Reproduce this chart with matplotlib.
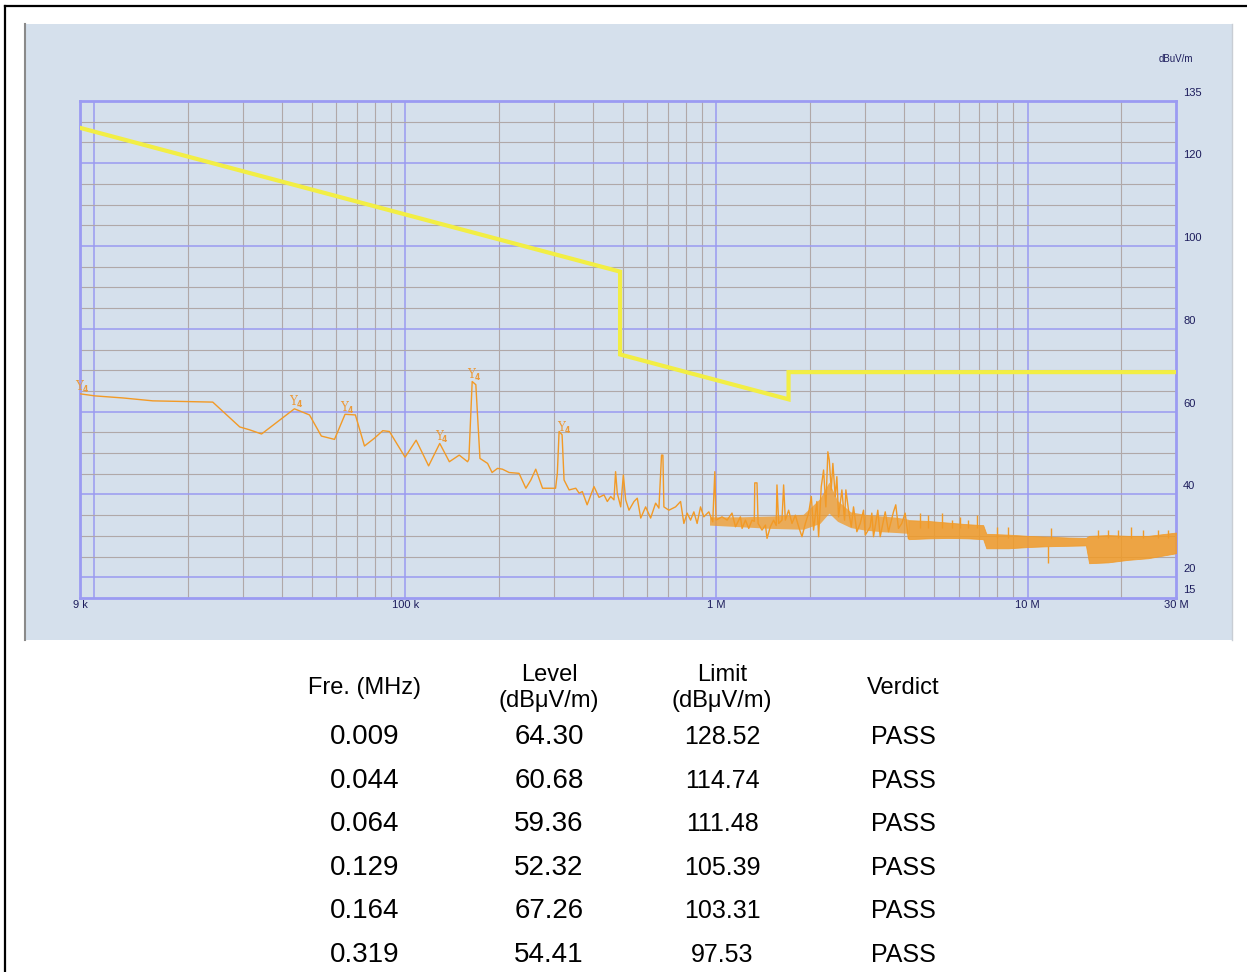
import matplotlib
matplotlib.use('Agg')
import matplotlib.pyplot as plt
from matplotlib.patches import Rectangle
from matplotlib.lines import Line2D

W, H = 1247, 972

# ---------------- data ----------------
trace_freq = [0.009, 0.01005, 0.01237, 0.01544, 0.02404, 0.02936, 0.0316, 0.0345,
              0.044, 0.0492, 0.0537, 0.0592, 0.064, 0.0691, 0.0739, 0.0796, 0.0846,
              0.0889, 0.0998, 0.1083, 0.1188, 0.129, 0.1385, 0.149, 0.1585, 0.1600,
              0.164, 0.1685, 0.1737, 0.1838, 0.190, 0.1978, 0.2052, 0.2156, 0.232,
              0.244, 0.2532, 0.2625, 0.276, 0.304, 0.308, 0.312, 0.319, 0.3237,
              0.336, 0.353, 0.362, 0.3706, 0.384, 0.404, 0.4193, 0.435, 0.4459,
              0.4571, 0.4684, 0.474, 0.480, 0.4923, 0.502, 0.5108, 0.5234, 0.5432,
              0.5565, 0.571, 0.592, 0.6143, 0.6375, 0.6532, 0.666, 0.6728, 0.6777,
              0.7032, 0.7389, 0.7668, 0.7857, 0.805, 0.8256, 0.846, 0.8667, 0.8888,
              0.9108, 0.945, 0.973, 0.988, 0.997, 1.042, 1.082, 1.122, 1.151, 1.194,
              1.209, 1.239, 1.270, 1.301, 1.323, 1.328, 1.350, 1.361, 1.401, 1.437,
              1.454, 1.490, 1.527, 1.556, 1.565, 1.585, 1.624, 1.644, 1.665, 1.706,
              1.749, 1.793, 1.838, 1.883, 1.931, 1.978, 2.018, 2.052, 2.103, 2.130,
              2.172, 2.210, 2.247, 2.281, 2.305, 2.339, 2.367, 2.409, 2.438, 2.469,
              2.530, 2.581, 2.606, 2.658, 2.712, 2.758, 2.827, 2.898, 2.970, 3.008,
              3.120, 3.158, 3.198, 3.301, 3.360, 3.487, 3.573, 3.707, 3.770, 3.846,
              3.941, 4.041, 4.141]
trace_level = [64.3, 63.8, 63.3, 62.6, 62.3, 56.3, 55.6, 54.6,
               60.68, 59.2, 54.1, 53.3, 59.36, 59.2, 51.7, 53.6, 55.4,
               55.2, 49.0, 53.1, 46.9, 52.32, 47.9, 49.5, 47.9, 48.5,
               67.26, 66.5, 48.7, 47.5, 45.3, 46.3, 46.1, 45.3, 45.1,
               41.5, 43.5, 46.1, 41.5, 41.5, 45.1, 55.2, 54.41, 43.5,
               41.1, 41.5, 40.3, 40.7, 37.5, 41.9, 39.3, 39.9, 38.3,
               39.5, 38.7, 45.5, 40.3, 37.0, 44.7, 38.7, 36.2, 38.3,
               39.1, 34.3, 37.0, 34.3, 37.9, 36.7, 49.5, 49.5, 37.0,
               36.2, 37.0, 38.3, 33.0, 35.5, 33.8, 35.8, 33.0, 37.0,
               34.6, 35.8, 33.4, 45.5, 33.8, 34.6, 33.8, 35.5, 32.2, 34.6,
               31.8, 33.8, 31.8, 33.8, 33.5, 42.8, 42.8, 33.0, 31.4, 32.6,
               29.4, 32.2, 33.8, 32.5, 42.3, 33.0, 33.8, 42.3, 33.8, 36.2,
               33.0, 35.0, 32.2, 29.8, 33.0, 35.5, 39.5, 31.4, 38.3, 29.8,
               41.9, 45.9, 37.0, 50.3, 48.3, 41.1, 47.5, 39.5, 44.3, 34.6,
               41.1, 33.8, 41.1, 36.2, 32.2, 37.0, 31.0, 33.0, 36.2, 30.2,
               32.2, 35.5, 29.8, 36.2, 29.8, 35.8, 31.0, 35.8, 37.5, 31.8,
               33.0, 35.5, 29.4]

# dense part of the trace (thousands of sweep points) drawn as an envelope
dense_freq = [0.95, 1.2, 1.5, 1.9, 2.15, 2.3, 2.45, 2.7, 3.0, 3.4, 3.8, 4.14]
dense_low = [32.6, 32.2, 31.8, 31.6, 33.0, 35.5, 33.5, 32.0, 31.4, 31.0, 30.8, 30.6]
dense_high = [34.6, 34.6, 34.8, 35.2, 39.0, 43.0, 38.5, 35.8, 35.2, 34.8, 34.5, 34.0]

band_freq = [4.14, 4.80, 5.56, 6.45, 7.20, 7.37, 8.67, 10.04, 11.65, 13.5, 15.4,
             15.77, 18.15, 21.0, 24.4, 30.0]
band_low = [29.2, 29.4, 29.5, 29.4, 29.2, 27.0, 27.0, 27.3, 27.5, 27.6, 27.7,
            23.4, 23.6, 24.2, 24.6, 25.8]
band_high = [33.8, 33.6, 33.2, 32.8, 32.6, 30.5, 30.3, 30.0, 29.8, 29.6, 29.5,
             30.0, 30.2, 30.0, 30.0, 30.8]

spike_freq = [4.51, 4.80, 5.30, 5.70, 6.07, 6.45, 6.86, 7.95, 8.67, 11.65, 11.93,
              16.85, 18.15, 19.53, 21.5, 23.5, 26.25, 28.27]
spike_base = [32.0, 32.0, 32.0, 32.0, 32.0, 32.0, 32.0, 29.5, 29.5, 27.5, 29.5,
              29.5, 29.5, 29.5, 29.5, 29.5, 29.5, 29.5]
spike_top = [35.5, 35.0, 35.5, 33.8, 34.6, 33.8, 35.0, 32.2, 32.2, 23.4, 31.9,
             31.4, 31.4, 31.4, 32.2, 31.4, 31.4, 31.4]

limit_freq = [0.009, 0.49, 0.49, 1.705, 1.705, 30.0]
limit_level = [128.52, 93.80, 73.80, 62.97, 69.54, 69.54]

peak_freq = [0.009, 0.044, 0.064, 0.129, 0.164, 0.319]
peak_level = [64.30, 60.68, 59.36, 52.32, 67.26, 54.41]
peak_limit = [128.52, 114.74, 111.48, 105.39, 103.31, 97.53]
peak_verdict = ['PASS', 'PASS', 'PASS', 'PASS', 'PASS', 'PASS']

x_tick_freq = [0.009, 0.1, 1.0, 10.0, 30.0]
x_tick_labels = ['9 k', '100 k', '1 M', '10 M', '30 M']
y_tick_values = [135, 120, 100, 80, 60, 40, 20, 15]
y_unit = 'dBuV/m'
table_headers = ['Fre. (MHz)', 'Level\n(dB\u03bcV/m)', 'Limit\n(dB\u03bcV/m)', 'Verdict']

# ---------------- styling ----------------
PANEL = '#d5e0ec'
GRID_GRAY = '#b0a8a8'
GRID_BLUE = '#9a9af0'
BORDER_BLUE = '#9b9bf2'
ORANGE = '#f29a26'
YELLOW = '#f2ee44'
NAVY = '#1c1c5c'
TFONT = ['Liberation Sans', 'DejaVu Sans']


def fx(x):
    return x / W


def fy(y):
    return 1 - y / H


fig = plt.figure(figsize=(W / 100, H / 100), dpi=100)
fig.patch.set_facecolor('white')

# outer black frame (top and left visible)
fig.add_artist(Line2D([fx(5), 1.0], [fy(6), fy(6)], color='black', lw=1.6,
                      transform=fig.transFigure))
fig.add_artist(Line2D([fx(5), fx(5)], [fy(6), 0.0], color='black', lw=1.6,
                      transform=fig.transFigure))

# chart panel
fig.add_artist(Rectangle((fx(25), fy(640)), (1232 - 25) / W, (640 - 24) / H,
                         facecolor=PANEL, edgecolor='none',
                         transform=fig.transFigure, zorder=0))
fig.add_artist(Line2D([fx(25), fx(25)], [fy(24), fy(640)], color='#8a8a8a', lw=1.5,
                      transform=fig.transFigure))
fig.add_artist(Line2D([fx(1232), fx(1232)], [fy(24), fy(640)], color='#c8cdd4', lw=1.0,
                      transform=fig.transFigure))

ax = fig.add_axes([fx(80), fy(598), (1176 - 80) / W, (598 - 101) / H])
ax.set_facecolor('none')
ax.set_xscale('log')
ax.set_xlim(0.009, 30)
ax.set_ylim(15, 135)
ax.tick_params(which='both', length=0, labelbottom=False, labelleft=False)
for s in ax.spines.values():
    s.set_color(BORDER_BLUE)
    s.set_linewidth(2.0)

# grid
for dec in [0.001, 0.01, 0.1, 1.0, 10.0]:
    for m in range(1, 10):
        v = dec * m
        if 0.009 < v < 30:
            if m == 1:
                ax.axvline(v, color=GRID_BLUE, lw=1.1, zorder=1)
            else:
                ax.axvline(v, color=GRID_GRAY, lw=0.8, zorder=1)
for lv in range(20, 135, 5):
    if lv % 20 == 0:
        ax.axhline(lv, color=GRID_BLUE, lw=1.1, zorder=1)
    else:
        ax.axhline(lv, color=GRID_GRAY, lw=0.8, zorder=1)

# limit line
ax.plot(limit_freq, limit_level, color=YELLOW, lw=3.0, zorder=3, solid_joinstyle='miter')

# measured trace
ax.fill_between(dense_freq, dense_low, dense_high, color=ORANGE, lw=0,
                zorder=4, alpha=0.75)
ax.plot(trace_freq, trace_level, color=ORANGE, lw=1.0, zorder=4)
ax.fill_between(band_freq, band_low, band_high, color=ORANGE, lw=0.6,
                edgecolor=ORANGE, zorder=4, alpha=0.85)
ax.vlines(spike_freq, spike_base, spike_top, color=ORANGE, lw=1.0, zorder=4)

# peak markers
for f, lv in zip(peak_freq, peak_level):
    ax.annotate('Y', xy=(f, lv), xytext=(-1, 7), textcoords='offset pixels',
                ha='center', va='center', fontsize=8.5, color='#eb9a3a',
                family='DejaVu Serif', annotation_clip=False, zorder=6)
    ax.annotate('4', xy=(f, lv), xytext=(5, 4), textcoords='offset pixels',
                ha='center', va='center', fontsize=5.5, color='#eb9a3a',
                fontweight='bold', annotation_clip=False, zorder=6)

# tick labels
for f, lab in zip(x_tick_freq, x_tick_labels):
    ax.annotate(lab, xy=(f, 0), xycoords=('data', 'axes fraction'),
                xytext=(0, -7), textcoords='offset pixels', ha='center', va='center',
                fontsize=8, color=NAVY, family='Liberation Sans', annotation_clip=False)
for v in y_tick_values:
    ax.annotate(str(v), xy=(1, v), xycoords=('axes fraction', 'data'),
                xytext=(7, 8), textcoords='offset pixels', ha='left', va='center',
                fontsize=8, color=NAVY, family='Liberation Sans', annotation_clip=False)
fig.text(fx(1176), fy(59), y_unit, ha='center', va='center', fontsize=7,
         color=NAVY, family='Liberation Sans')

# table
col_x = [365, 549, 722, 903]
fig.text(fx(col_x[0]), fy(688), table_headers[0], ha='center', va='center',
         fontsize=17, family=TFONT)
fig.text(fx(col_x[1]), fy(688), table_headers[1], ha='center', va='center',
         fontsize=17, family=TFONT, linespacing=1.2)
fig.text(fx(col_x[2]), fy(688), table_headers[2], ha='center', va='center',
         fontsize=17, family=TFONT, linespacing=1.2)
fig.text(fx(col_x[3]), fy(688), table_headers[3], ha='center', va='center',
         fontsize=17, family=TFONT)

row_y0, row_dy = 737, 43.6
for i, (f, lv, lim, ver) in enumerate(zip(peak_freq, peak_level, peak_limit, peak_verdict)):
    yy = fy(row_y0 + i * row_dy)
    fig.text(fx(col_x[0]), yy, f'{f:.3f}', ha='center', va='center', fontsize=20, family=TFONT)
    fig.text(fx(col_x[1]), yy, f'{lv:.2f}', ha='center', va='center', fontsize=20, family=TFONT)
    fig.text(fx(col_x[2]), yy, f'{lim:.2f}', ha='center', va='center', fontsize=18, family=TFONT)
    fig.text(fx(col_x[3]), yy, ver, ha='center', va='center', fontsize=18, family=TFONT)

fig.savefig('out.png', dpi=100, facecolor='white')
